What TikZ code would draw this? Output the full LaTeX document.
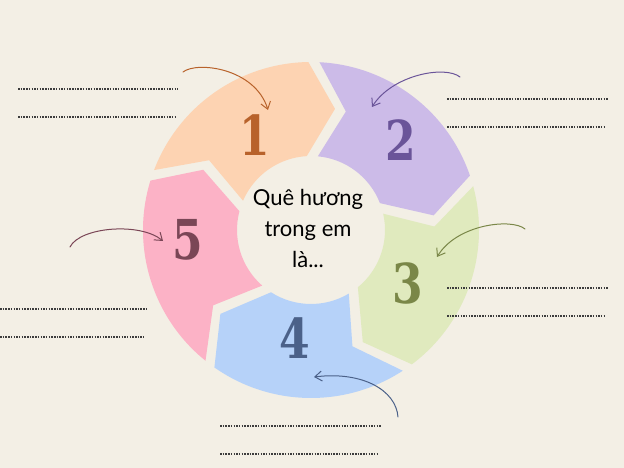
\documentclass[tikz,border=0pt]{standalone}
\usepackage{fontspec}
\newfontfamily\numfont{DejaVu Serif}[FakeStretch=0.8]
\newfontfamily\txtfont{Lato}
\usetikzlibrary{arrows.meta}
\definecolor{bg}{HTML}{F3EFE5}
\definecolor{segA}{HTML}{FDD3B2}
\definecolor{segB}{HTML}{CCBBE8}
\definecolor{segC}{HTML}{E0EABE}
\definecolor{segD}{HTML}{B6D2F9}
\definecolor{segE}{HTML}{FCB2C6}
\definecolor{numA}{HTML}{B8622B}
\definecolor{numB}{HTML}{6A5499}
\definecolor{numC}{HTML}{7A8748}
\definecolor{numD}{HTML}{4B6189}
\definecolor{numE}{HTML}{7A4656}
\definecolor{dotgray}{HTML}{3C3C3C}
\begin{document}
\begin{tikzpicture}[x=1pt,y=1pt,
  numlbl/.style={font=\numfont\bfseries\fontsize{55}{55}\selectfont, inner sep=0pt},
  curvearrow/.style={line width=1pt, line cap=round, -{Straight Barb[length=7pt,width=10pt]}},
  dotline/.style={line width=1.7pt, draw=dotgray, dash pattern=on 1.5pt off 1.2pt}]
\fill[bg] (0,0) rectangle (624,468);
\useasboundingbox (0,0) rectangle (624,468);
% ring of five chevron segments
\begin{scope}[shift={(311,238)}]
\foreach \s/\c in {161/segA,89/segB,17/segC,-55/segD,-127/segE}{
  \fill[\c] ({\s-1.9}:168pt) arc[start angle={\s-1.9}, end angle={\s-72+1.9}, radius=168pt]
    -- ({\s-72-10.2}:123.5pt) -- ({\s-72+4.3}:74pt)
    arc[start angle={\s-72+4.3}, end angle={\s-4.3}, radius=74pt]
    -- ({\s-15.4}:123.5pt) -- cycle;
}
\end{scope}
% centre text
\node[font=\txtfont\fontsize{22}{31}\selectfont, align=center] (centre) at (308,240) {Quê hương\\trong em\\là...};
% numbers
\node[numlbl, text=numA] (n1) at (255,333) {1};
\node[numlbl, text=numB] (n2) at (401,328) {2};
\node[numlbl, text=numC] (n3) at (408,185) {3};
\node[numlbl, text=numD] (n4) at (295,130) {4};
\node[numlbl, text=numE] (n5) at (188,228) {5};
% curved arrows
\coordinate (a1s) at (183,396); \coordinate (a1e) at (268,358);
\coordinate (a2s) at (460,391); \coordinate (a2e) at (372,361);
\coordinate (a3s) at (525,239); \coordinate (a3e) at (437,211);
\coordinate (a4s) at (398,51);  \coordinate (a4e) at (314,91);
\coordinate (a5s) at (70,221);  \coordinate (a5e) at (163,227);
\draw[curvearrow, numA] (a1s) .. controls (197,407) and (255,400) .. (a1e);
\draw[curvearrow, numB] (a2s) .. controls (445,403) and (392,393) .. (a2e);
\draw[curvearrow, numC] (a3s) .. controls (512,250) and (457,244) .. (a3e);
\draw[curvearrow, numD] (a4s) .. controls (396,78) and (362,97) .. (a4e);
\draw[curvearrow, numE] (a5s) .. controls (80,241) and (140,246) .. (a5e);
% dotted writing lines
\coordinate (l1a) at (18,379);  \coordinate (l1b) at (178,379);
\coordinate (l1c) at (18,351);  \coordinate (l1d) at (176,351);
\coordinate (l2a) at (447,369); \coordinate (l2b) at (608,369);
\coordinate (l2c) at (447,341); \coordinate (l2d) at (606,341);
\coordinate (l3a) at (447,180); \coordinate (l3b) at (608,180);
\coordinate (l3c) at (447,152); \coordinate (l3d) at (606,152);
\coordinate (l4a) at (220,42);  \coordinate (l4b) at (381,42);
\coordinate (l4c) at (220,14);  \coordinate (l4d) at (378,14);
\coordinate (l5a) at (0,159);   \coordinate (l5b) at (147,159);
\coordinate (l5c) at (0,131);   \coordinate (l5d) at (144,131);
\foreach \p/\q in {l1a/l1b,l1c/l1d,l2a/l2b,l2c/l2d,l3a/l3b,l3c/l3d,l4a/l4b,l4c/l4d,l5a/l5b,l5c/l5d}
  \draw[dotline] (\p) -- (\q);
\end{tikzpicture}
\end{document}
